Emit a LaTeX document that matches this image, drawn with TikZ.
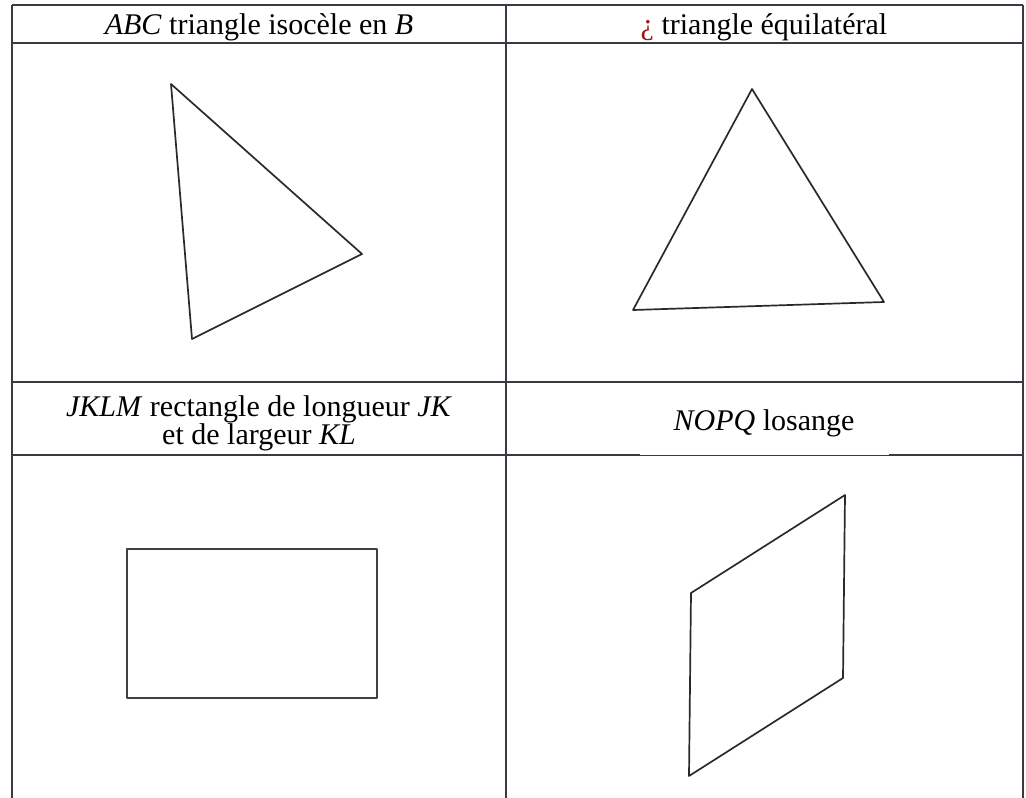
\documentclass[tikz,border=0pt]{standalone}
\usepackage{fontspec}
\setmainfont{Liberation Serif}
\definecolor{gridc}{HTML}{3A3A42}
\definecolor{qred}{HTML}{A01414}
\definecolor{figc}{HTML}{2A2A2A}
\begin{document}
\begin{tikzpicture}[x=1pt,y=-1pt,
  gridline/.style={draw=gridc,line width=1.4pt},
  thinline/.style={draw=gridc,line width=1pt},
  figline/.style={draw=figc,line width=1.7pt,line join=round},
  rectline/.style={draw=black!75,line width=2.2pt,line join=round},
  lbl/.style={font=\fontsize{30}{29}\selectfont,inner sep=0pt,anchor=base}]
\useasboundingbox (0,0) rectangle (1026,798);
\fill[white] (0,0) rectangle (1026,798);
% grid
\coordinate (tl) at (12,5);
\coordinate (tm) at (506,5);
\coordinate (tr) at (1023,5);
\coordinate (bl) at (12,798);
\coordinate (bm) at (506,798);
\coordinate (br) at (1023,798);
\draw[gridline] (tl) -- (tr);
\draw[gridline] (12,43) -- (1023,43);
\draw[gridline] (12,382) -- (1023,382);
\draw[gridline] (12,455) -- (640,455);
\draw[thinline] (640,455) -- (889,455);
\draw[gridline] (889,455) -- (1023,455);
\draw[gridline] (tl) -- (bl);
\draw[gridline] (tm) -- (bm);
\draw[gridline] (tr) -- (br);
% headers
\node[lbl] (h1) at (259,34) {\textit{ABC} triangle isocèle en \textit{B}};
\node[lbl] (h2) at (764,34) {\textcolor{qred}{¿} triangle équilatéral};
\node[lbl] (h3a) at (259,416) {\textit{JKLM} rectangle de longueur \textit{JK}};
\node[lbl] (h3b) at (259,444) {et de largeur \textit{KL}};
\node[lbl] (h4) at (764,430) {\textit{NOPQ} losange};
% isosceles triangle
\coordinate (A) at (171,84);
\coordinate (B) at (362,254);
\coordinate (C) at (192,339);
\draw[figline] (A) -- (B) -- (C) -- cycle;
% equilateral triangle
\coordinate (E1) at (752,89);
\coordinate (E2) at (884,302);
\coordinate (E3) at (633,310);
\draw[figline] (E1) -- (E2) -- (E3) -- cycle;
% rectangle
\coordinate (J) at (127,549);
\coordinate (L) at (377,698);
\draw[rectline] (J) rectangle (L);
% rhombus
\coordinate (N) at (845,495);
\coordinate (O) at (843,678);
\coordinate (P) at (689,776);
\coordinate (Q) at (691,593);
\draw[figline] (N) -- (O) -- (P) -- (Q) -- cycle;
\end{tikzpicture}
\end{document}
